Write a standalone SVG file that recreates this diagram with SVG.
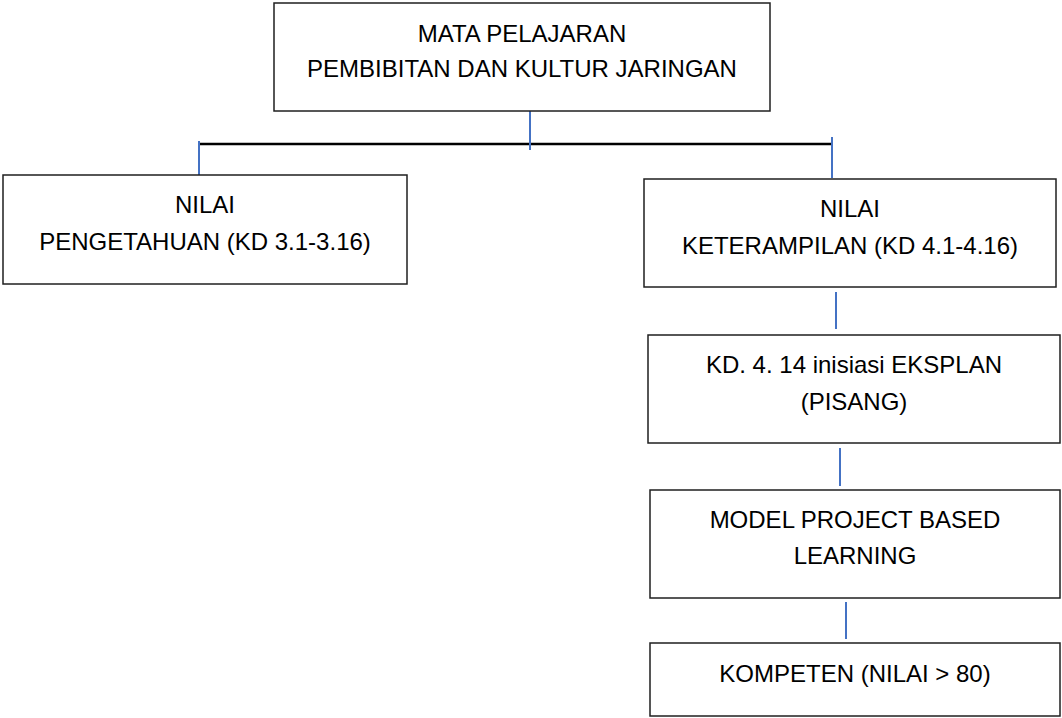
<svg xmlns="http://www.w3.org/2000/svg" width="1062" height="718" viewBox="0 0 1062 718">
<style>
.box{fill:#fff;stroke:#1f1f1f;stroke-width:1.5}
.t{font-family:"Liberation Sans",Arial,sans-serif;font-size:24px;fill:#000;text-anchor:middle}
.blue{stroke:#4472C4;stroke-width:2;fill:none}
.blk{stroke:#000;stroke-width:2.5;fill:none}
</style>
<rect width="1062" height="718" fill="#fff"/>
<g id="connectors">
<line class="blk" x1="199" y1="144" x2="831" y2="144"/>
<line class="blue" x1="530" y1="111" x2="530" y2="150"/>
<line class="blue" x1="199" y1="141" x2="199" y2="175"/>
<line class="blue" x1="832" y1="137" x2="832" y2="178"/>
<line class="blue" x1="836" y1="292" x2="836" y2="329"/>
<line class="blue" x1="840" y1="448" x2="840" y2="486"/>
<line class="blue" x1="846" y1="602" x2="846" y2="639"/>
</g>
<g id="mapel">
<rect class="box" x="274" y="3" width="496" height="108"/>
<text class="t" x="522" y="42">MATA PELAJARAN</text>
<text class="t" x="522" y="77">PEMBIBITAN DAN KULTUR JARINGAN</text>
</g>
<g id="pengetahuan">
<rect class="box" x="3" y="175" width="404" height="109"/>
<text class="t" x="205" y="213">NILAI</text>
<text class="t" x="205" y="250">PENGETAHUAN (KD 3.1-3.16)</text>
</g>
<g id="keterampilan">
<rect class="box" x="644" y="179" width="412" height="108"/>
<text class="t" x="850" y="217">NILAI</text>
<text class="t" x="850" y="254">KETERAMPILAN (KD 4.1-4.16)</text>
</g>
<g id="kd414">
<rect class="box" x="648" y="335" width="412" height="108"/>
<text class="t" x="854" y="373">KD. 4. 14 inisiasi EKSPLAN</text>
<text class="t" x="854" y="410">(PISANG)</text>
</g>
<g id="pjbl">
<rect class="box" x="650" y="490" width="410" height="108"/>
<text class="t" x="855" y="528">MODEL PROJECT BASED</text>
<text class="t" x="855" y="564">LEARNING</text>
</g>
<g id="kompeten">
<rect class="box" x="650" y="643" width="410" height="73"/>
<text class="t" x="855" y="682">KOMPETEN (NILAI &gt; 80)</text>
</g>
</svg>
